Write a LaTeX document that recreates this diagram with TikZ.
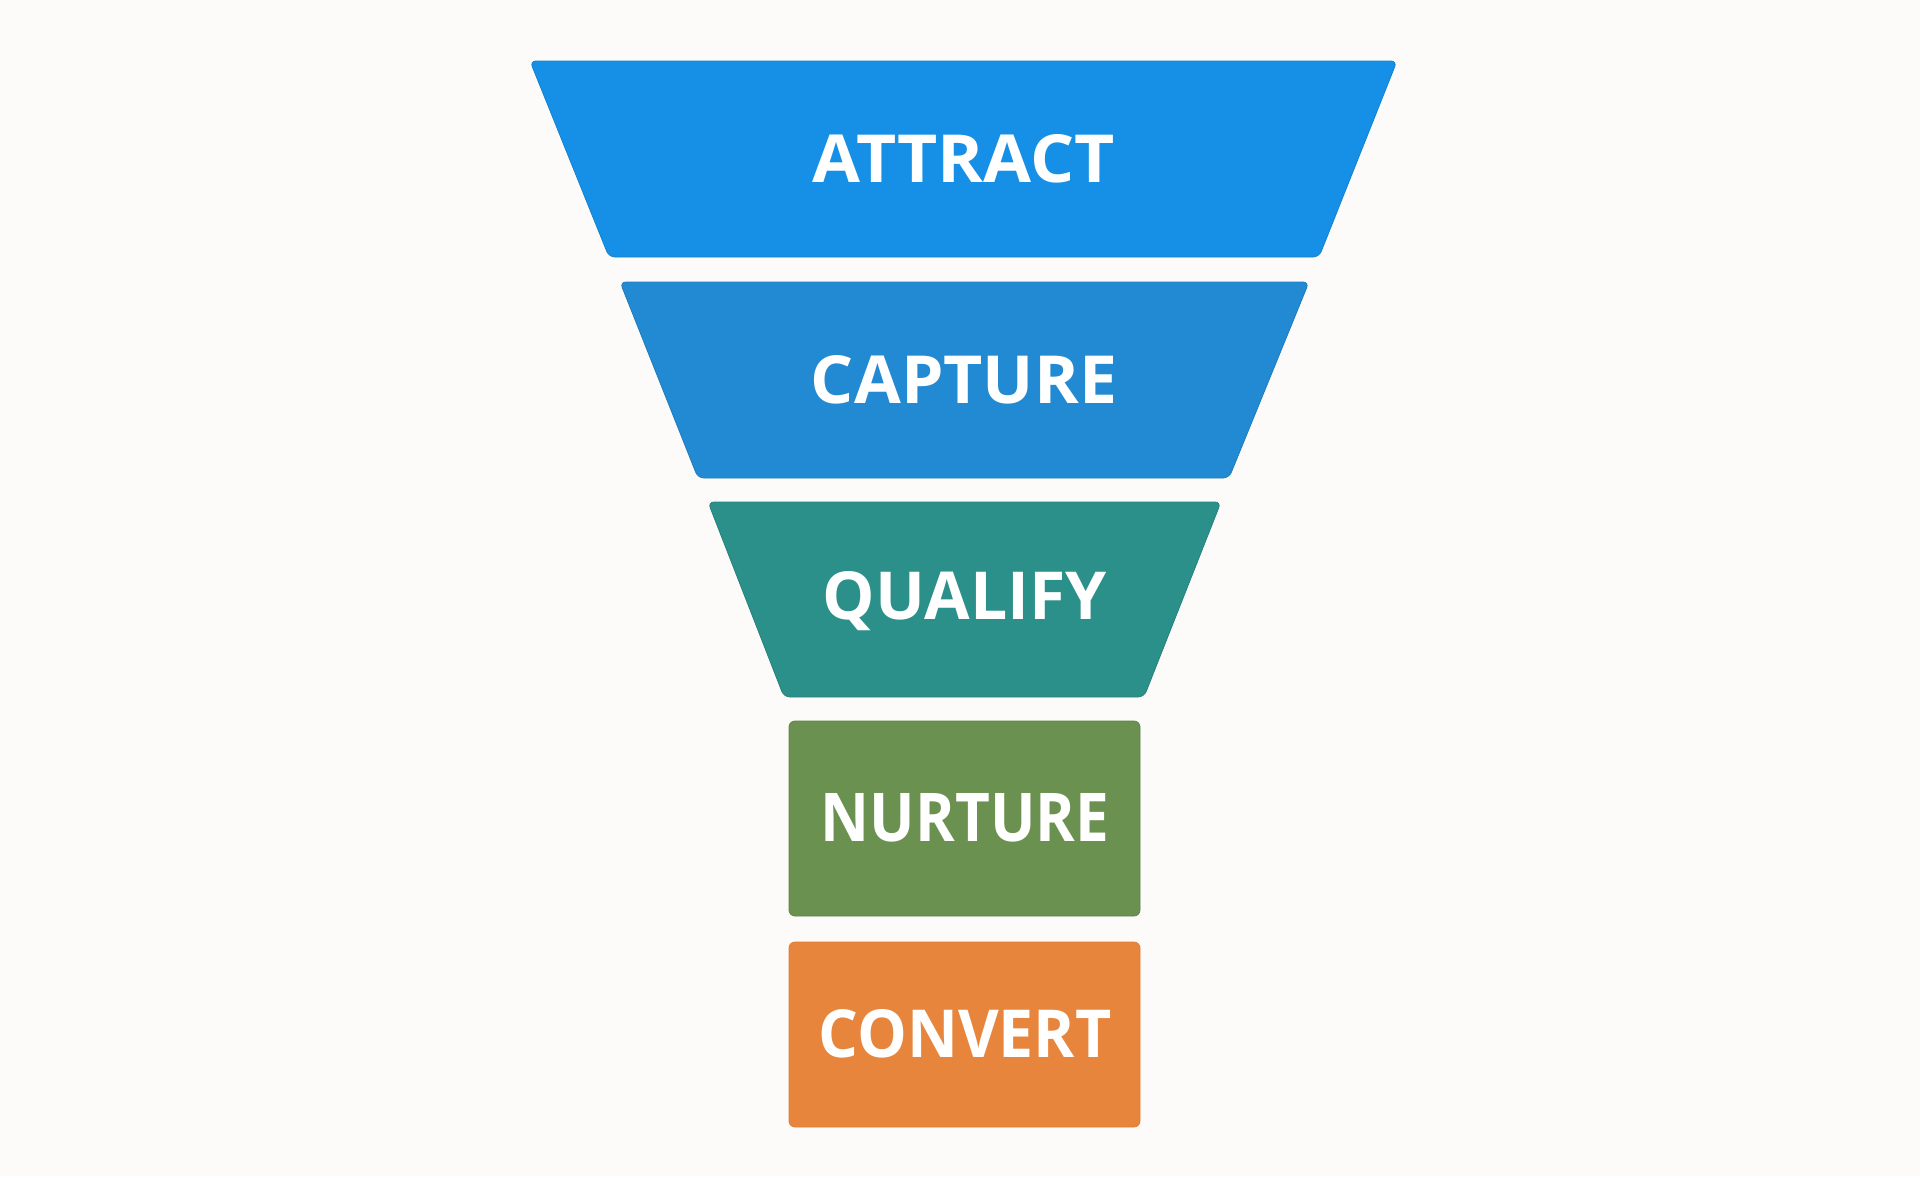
\documentclass[tikz,border=0pt]{standalone}
\usepackage{fontspec}
\usepackage{graphicx}
\newfontfamily\labfont{Open Sans}[BoldFont={* Bold}]
\definecolor{bgc}{HTML}{FCFBF9}
\definecolor{cattract}{HTML}{1590E6}
\definecolor{ccapture}{HTML}{228AD3}
\definecolor{cqualify}{HTML}{2B908A}
\definecolor{cnurture}{HTML}{6B9150}
\definecolor{cconvert}{HTML}{E8853C}
\tikzset{
  stage/.style={rounded corners=6pt, line width=0.8pt},
  lbl/.style={text=white, inner sep=0pt, anchor=center},
}
\newcommand{\stagelabel}[2]{\resizebox{#1pt}{48pt}{\labfont\bfseries #2}}
\begin{document}
\begin{tikzpicture}[x=1pt,y=-1pt]
\fill[bgc] (0,0) rectangle (1920,1176);
\useasboundingbox (0,0) rectangle (1920,1176);
% ATTRACT
\filldraw[stage, fill=cattract, draw=cattract!90!black] (530,61) -- (1397,61) -- (1319,257) -- (609,257) -- cycle;
\node[lbl] (attract) at (964,159) {\stagelabel{302}{ATTRACT}};
% CAPTURE
\filldraw[stage, fill=ccapture, draw=ccapture!90!black] (620,282) -- (1309,282) -- (1229,478) -- (698,478) -- cycle;
\node[lbl] (capture) at (964,380) {\stagelabel{306}{CAPTURE}};
% QUALIFY
\filldraw[stage, fill=cqualify, draw=cqualify!90!black] (708,502) -- (1221,502) -- (1144,697) -- (784,697) -- cycle;
\node[lbl] (qualify) at (965,601) {\stagelabel{284}{QUALIFY}};
% NURTURE
\filldraw[stage, fill=cnurture, draw=cnurture!90!black] (789,721) rectangle (1140,916);
\node[lbl] (nurture) at (965,818) {\stagelabel{288}{NURTURE}};
% CONVERT
\filldraw[stage, fill=cconvert, draw=cconvert!95!black] (789,942) rectangle (1140,1127);
\node[lbl] (convert) at (965,1034) {\stagelabel{293}{CONVERT}};
\end{tikzpicture}
\end{document}
